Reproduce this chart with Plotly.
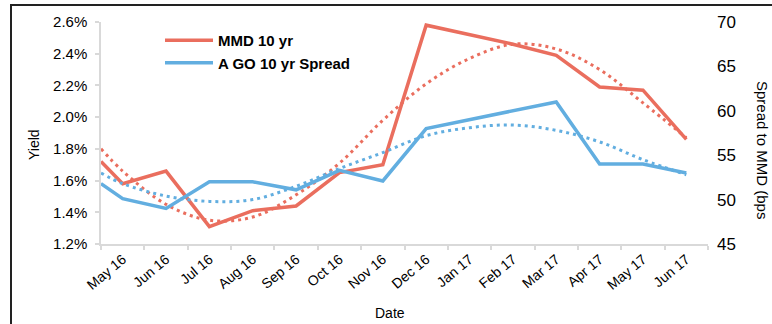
import plotly.graph_objects as go

# ---- data ----
month_labels = ["May 16", "Jun 16", "Jul 16", "Aug 16", "Sep 16", "Oct 16", "Nov 16",
                "Dec 16", "Jan 17", "Feb 17", "Mar 17", "Apr 17", "May 17", "Jun 17"]
# period index of each observation (first observation sits on the left edge of the axis)
period_pos = [-0.5, 0, 1, 2, 3, 4, 5, 6, 7, 8, 9, 10, 11, 12, 13]
mmd_10yr = [1.72, 1.58, 1.66, 1.31, 1.41, 1.44, 1.65, 1.70, 2.58, 2.52, 2.46, 2.39, 2.19, 2.17, 1.86]
ago_10yr_spread = [51.8, 50.1, 49.0, 52.0, 52.0, 51.1, 53.3, 52.1, 58.0, 59.0, 60.0, 61.0, 54.0, 54.0, 53.0]
mmd_trend = [1.80, 1.66, 1.45, 1.35, 1.37, 1.51, 1.71, 1.98, 2.21, 2.37, 2.46, 2.43, 2.30, 2.09, 1.87]
ago_trend = [53.0, 51.8, 50.4, 49.8, 50.0, 51.5, 53.5, 55.3, 57.2, 58.1, 58.4, 57.8, 56.5, 54.5, 52.8]
yield_ticks = [1.2, 1.4, 1.6, 1.8, 2.0, 2.2, 2.4, 2.6]
yield_tick_text = ["1.2%", "1.4%", "1.6%", "1.8%", "2.0%", "2.2%", "2.4%", "2.6%"]
spread_ticks = [45, 50, 55, 60, 65, 70]

RED = "#EA6E5E"
BLUE = "#62AEE0"
FONT = "Liberation Sans, Arial, sans-serif"

fig = go.Figure()
fig.add_trace(go.Scatter(x=period_pos, y=mmd_trend, mode="lines", line_shape="spline",
                         line=dict(color=RED, width=3, dash="3px,4px"), showlegend=False,
                         hoverinfo="skip"))
fig.add_trace(go.Scatter(x=period_pos, y=ago_trend, mode="lines", line_shape="spline", yaxis="y2",
                         line=dict(color=BLUE, width=3, dash="3px,4px"), showlegend=False,
                         hoverinfo="skip"))
fig.add_trace(go.Scatter(x=period_pos, y=mmd_10yr, mode="lines", name="MMD 10 yr",
                         line=dict(color=RED, width=3.5)))
fig.add_trace(go.Scatter(x=period_pos, y=ago_10yr_spread, mode="lines", name="A GO 10 yr Spread",
                         yaxis="y2", line=dict(color=BLUE, width=3.5)))

n = len(month_labels)
boundaries = [i - 0.5 for i in range(n + 1)]

fig.update_layout(
    width=772, height=324,
    margin=dict(l=101, r=64, t=22, b=80),
    paper_bgcolor="white", plot_bgcolor="white",
    font=dict(family=FONT, color="#000000"),
    showlegend=True,
    legend=dict(x=(160 - 101) / 607, y=1 - (24 - 22) / 222, xanchor="left", yanchor="top",
                bgcolor="rgba(0,0,0,0)", font=dict(size=15, family=FONT, color="#000", weight="bold"),
                tracegroupgap=0, itemwidth=48),
    xaxis=dict(range=[-0.5, n - 0.5], tickvals=list(range(n)), ticktext=month_labels,
               tickangle=-40, tickfont=dict(size=14), ticks="",
               showline=True, linecolor="#D9D9D9", linewidth=1.5, showgrid=False, zeroline=False,
               minor=dict(tickvals=boundaries, ticks="outside", ticklen=4, tickcolor="#D9D9D9",
                          tickwidth=1.5, showgrid=False)),
    yaxis=dict(range=[1.2, 2.6], tickvals=yield_ticks, ticktext=yield_tick_text,
               tickfont=dict(size=15), ticks="outside", ticklen=4, tickcolor="#D9D9D9",
               tickwidth=1.5, showline=True, linecolor="#D9D9D9", linewidth=1.5,
               showgrid=False, zeroline=False, ticklabelstandoff=5),
    yaxis2=dict(range=[45, 70], tickvals=spread_ticks, overlaying="y", side="right",
                tickfont=dict(size=17), ticks="", showline=False, showgrid=False, zeroline=False,
                ticklabelstandoff=8),
)

# axis titles
fig.add_annotation(text="Yield", xref="paper", yref="paper", x=(34 - 101) / 607,
                   y=1 - (145 - 22) / 222, textangle=-90, showarrow=False,
                   xanchor="center", yanchor="middle", font=dict(size=14, family=FONT))
fig.add_annotation(text="Spread to MMD (bps", xref="paper", yref="paper", x=(763 - 101) / 607,
                   y=1 - (150 - 22) / 222, textangle=90, showarrow=False,
                   xanchor="center", yanchor="middle", font=dict(size=15, family=FONT))
fig.add_annotation(text="Date", xref="paper", yref="paper", x=(390 - 101) / 607,
                   y=1 - (313 - 22) / 222, showarrow=False,
                   xanchor="center", yanchor="middle", font=dict(size=14, family=FONT))

# outer frame (left and top edges visible in the crop)
fig.add_shape(type="rect", xref="paper", yref="paper",
              x0=(11 - 101) / 607, x1=(790 - 101) / 607,
              y0=1 - (340 - 22) / 222, y1=1 - (5 - 22) / 222,
              line=dict(color="#222222", width=2), layer="below")

fig.write_html("out.html")
